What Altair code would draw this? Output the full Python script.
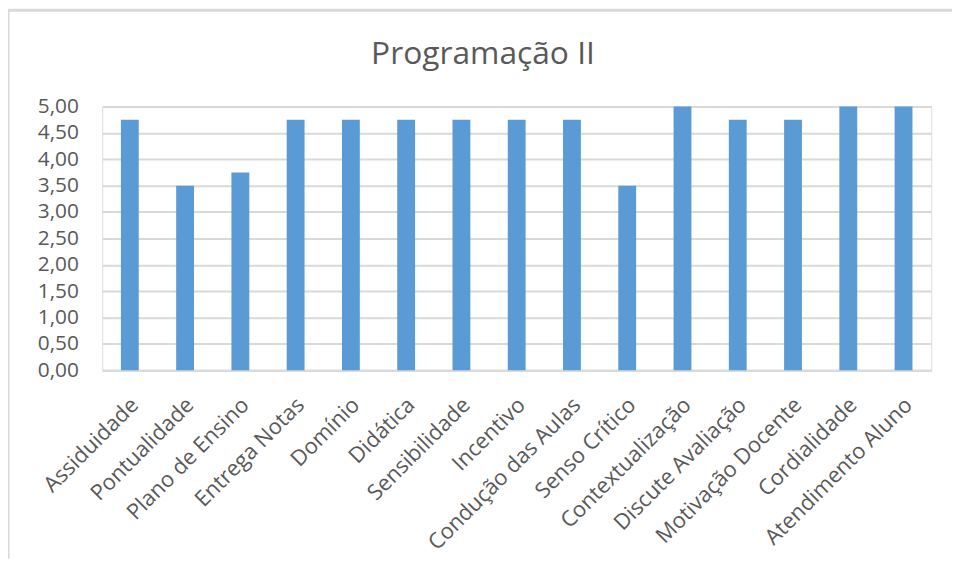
import altair as alt
import pandas as pd

categories = ["Assiduidade", "Pontualidade", "Plano de Ensino", "Entrega Notas", "Domínio",
              "Didática", "Sensibilidade", "Incentivo", "Condução das Aulas", "Senso Crítico",
              "Contextualização", "Discute Avaliação", "Motivação Docente", "Cordialidade",
              "Atendimento Aluno"]
values = [4.75, 3.5, 3.75, 4.75, 4.75, 4.75, 4.75, 4.75, 4.75, 3.5, 5.0, 4.75, 4.75, 5.0, 5.0]
y_ticks = [0, 0.5, 1, 1.5, 2, 2.5, 3, 3.5, 4, 4.5, 5]
title_text = "Programação II"

df = pd.DataFrame({"cat": categories, "val": values})

W, H = 836, 266
PL, PT, PR, PB = 95, 97, 21, 190
FONT = "Open Sans"
TXT = "#595959"
GRID = "#D9D9D9"

bars = alt.Chart(df).mark_bar(color="#5B9BD5").encode(
    x=alt.X("cat:N", sort=categories, title=None,
            scale=alt.Scale(paddingInner=0.677, paddingOuter=0.3385),
            axis=alt.Axis(labelAngle=-45, labelAlign="right", labelBaseline="middle",
                          labelPadding=31, labelOffset=5, labelFontSize=22, labelFont=FONT,
                          labelColor=TXT, ticks=False, domain=True, domainColor=GRID,
                          domainWidth=2, labelLimit=400)),
    y=alt.Y("val:Q", title=None,
            scale=alt.Scale(domain=[0, 5], nice=False),
            axis=alt.Axis(values=y_ticks, labelExpr="replace(format(datum.value, '.2f'), '.', ',')",
                          labelFontSize=21, labelFont=FONT, labelColor=TXT, labelPadding=24,
                          ticks=False, domain=False, grid=True, gridColor=GRID, gridWidth=2)),
)

frame_data = alt.Data(values=[{"a": 1}])
top_border = alt.Chart(frame_data).mark_rule(color=GRID, strokeWidth=3).encode(
    x=alt.value(-PL), x2=alt.value(W + PR), y=alt.value(-PT)
)
left_border = alt.Chart(frame_data).mark_rule(color=GRID, strokeWidth=3).encode(
    x=alt.value(-PL), y=alt.value(-PT), y2=alt.value(H + PB)
)
title = alt.Chart(frame_data).mark_text(
    font=FONT, fontSize=32, color=TXT, align="center", baseline="alphabetic"
).encode(x=alt.value(384), y=alt.value(-43), text=alt.value(title_text))

chart = alt.layer(bars, top_border, left_border, title).properties(
    width=W, height=H,
    autosize="none",
    padding={"left": PL, "top": PT, "right": PR, "bottom": PB},
).configure_view(stroke=None).configure(background="white")

chart.save("out.html", embed_options={"renderer": "svg", "actions": False})
